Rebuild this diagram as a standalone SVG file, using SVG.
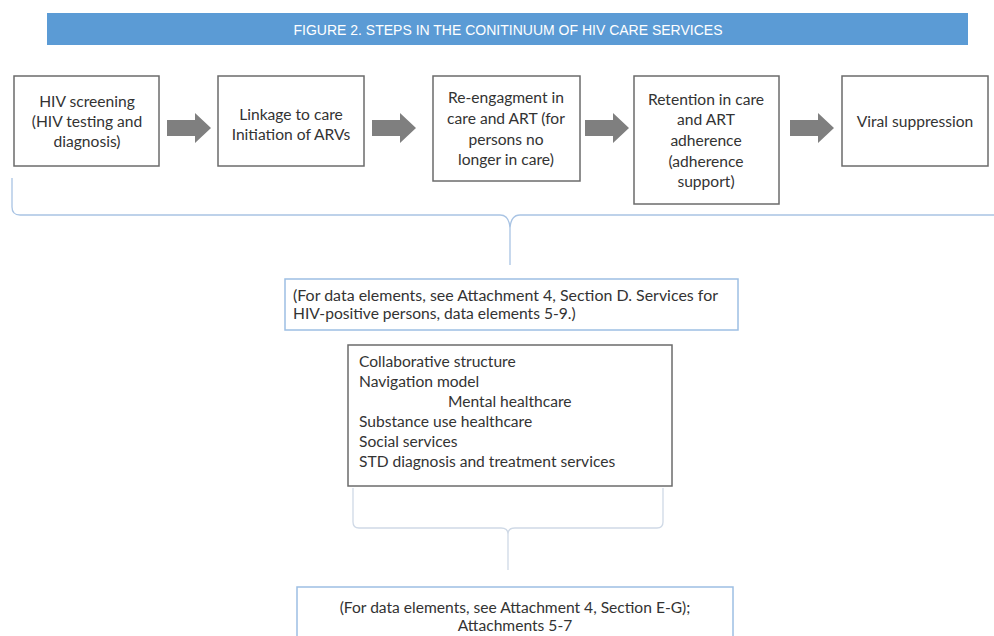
<svg xmlns="http://www.w3.org/2000/svg" width="994" height="636" viewBox="0 0 994 636">
<style>
.t{font-family:Lato,"Open Sans","Liberation Sans",sans-serif;font-size:15.6px;fill:#333}
.c{text-anchor:middle}
.box{fill:#fff;stroke:#6b6b6b;stroke-width:1.5}
.bbox{fill:#fff;stroke:#9dbfe3;stroke-width:1.5}
.arr{fill:#7f7f7f}
.br{fill:none;stroke:#a9c4e4;stroke-width:1.3}
.br2{fill:none;stroke:#cfd9e6;stroke-width:1.3}
</style>
<rect width="994" height="636" fill="#fff"/>
<g id="title">
<rect x="47" y="13" width="921" height="32" fill="#5b9bd5"/>
<text x="508" y="35" text-anchor="middle" font-family="Liberation Sans,sans-serif" font-size="14.5" fill="#fff" textLength="429" lengthAdjust="spacingAndGlyphs">FIGURE 2.  STEPS IN THE CONITINUUM OF HIV CARE SERVICES</text>
</g>
<g id="connectors">
<path class="arr" d="M167,120 H195 V113 L211,128 L195,143 V136 H167 Z"/>
<path class="arr" d="M372,120 H400 V113 L416,128 L400,143 V136 H372 Z"/>
<path class="arr" d="M585,120 H613 V113 L629,128 L613,143 V136 H585 Z"/>
<path class="arr" d="M790,120 H818 V113 L834,128 L818,143 V136 H790 Z"/>
<path class="br" d="M12,178 V207 Q12,215 20,215 H500 Q509,215 510,228 V265 M510,228 Q511,215 520,215 H994"/>
<path class="br2" d="M353,488 V522 Q353,528 359,528 H501 Q508,528 508,534 V570 M508,534 Q508,528 515,528 H657 Q663,528 663,522 V488"/>
</g>
<g id="n1">
<rect class="box" x="14" y="76" width="145" height="90"/>
<text class="t c" x="87" y="107">HIV screening</text>
<text class="t c" x="87" y="127">(HIV testing and</text>
<text class="t c" x="87" y="147">diagnosis)</text>
</g>
<g id="n2">
<rect class="box" x="218" y="76" width="146" height="90"/>
<text class="t c" x="291" y="120">Linkage to care</text>
<text class="t c" x="291" y="140">Initiation of ARVs</text>
</g>
<g id="n3">
<rect class="box" x="433" y="76" width="147" height="105"/>
<text class="t c" x="506" y="103">Re-engagment in</text>
<text class="t c" x="506" y="124">care and ART (for</text>
<text class="t c" x="506" y="145">persons no</text>
<text class="t c" x="506" y="165">longer in care)</text>
</g>
<g id="n4">
<rect class="box" x="634" y="76" width="145" height="128"/>
<text class="t c" x="706" y="105">Retention in care</text>
<text class="t c" x="706" y="125">and ART</text>
<text class="t c" x="706" y="146">adherence</text>
<text class="t c" x="706" y="167">(adherence</text>
<text class="t c" x="706" y="187">support)</text>
</g>
<g id="n5">
<rect class="box" x="842" y="76" width="146" height="90"/>
<text class="t c" x="915" y="127">Viral suppression</text>
</g>
<g id="nA">
<rect class="bbox" x="285" y="279" width="453" height="51"/>
<text class="t" x="293" y="301" textLength="425" lengthAdjust="spacingAndGlyphs">(For data elements, see Attachment 4, Section D. Services for</text>
<text class="t" x="293" y="319">HIV-positive persons, data elements 5-9.)</text>
</g>
<g id="nB">
<rect class="box" x="348" y="345" width="324" height="141"/>
<text class="t" x="359" y="367">Collaborative structure</text>
<text class="t" x="359" y="387">Navigation model</text>
<text class="t" x="448" y="407">Mental healthcare</text>
<text class="t" x="359" y="427">Substance use healthcare</text>
<text class="t" x="359" y="447">Social services</text>
<text class="t" x="359" y="467">STD diagnosis and treatment services</text>
</g>
<g id="nC">
<rect class="bbox" x="297" y="587" width="436" height="60"/>
<text class="t c" x="515" y="613">(For data elements, see Attachment 4, Section E-G);</text>
<text class="t c" x="515" y="631">Attachments 5-7</text>
</g>
</svg>
